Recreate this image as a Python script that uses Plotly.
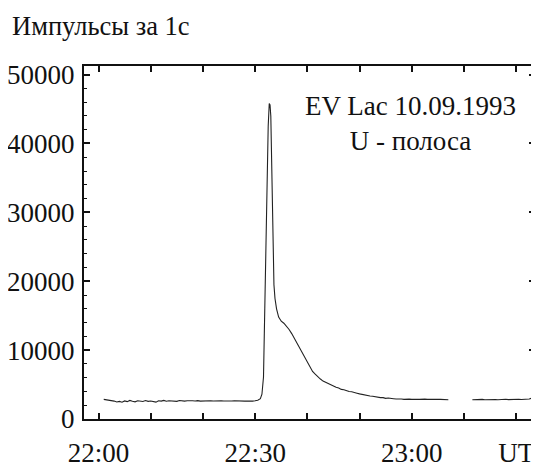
import plotly.graph_objects as go

# minutes after 22:00 UT
t_pre = [1.0, 1.5, 2.0, 2.5, 3.0, 3.5, 4.0, 4.5, 5.0, 5.5, 6.0, 6.5, 7.0, 7.5, 8.0, 8.5,
         9.0, 9.5, 10.0, 10.5, 11.0, 11.5, 12.0, 12.5, 13.0, 13.5, 14.0, 14.5, 15.0, 15.5,
         16.0, 16.5, 17.0, 17.5, 18.0, 18.5, 19.0, 19.5, 20.0, 20.5, 21.0, 21.5, 22.0, 22.5,
         23.0, 23.5, 24.0, 24.5, 25.0, 25.5, 26.0, 26.5, 27.0, 27.5, 28.0, 28.5, 29.0, 29.5,
         30.0, 30.5]
v_pre = [2850, 2800, 2720, 2650, 2600, 2480, 2560, 2430, 2620, 2520, 2700, 2580, 2490, 2640,
         2600, 2550, 2680, 2560, 2620, 2530, 2450, 2640, 2600, 2700, 2580, 2650, 2600, 2620,
         2560, 2680, 2620, 2600, 2650, 2590, 2640, 2610, 2660, 2590, 2620, 2650, 2600, 2640,
         2620, 2660, 2600, 2630, 2610, 2650, 2590, 2620, 2640, 2600, 2560, 2620, 2590, 2610,
         2580, 2600, 2650, 2720]

t_flare = [31.0, 31.3, 31.6, 31.8, 32.0, 32.25, 32.5, 32.7, 32.85, 33.0, 33.15, 33.3, 33.45,
           33.6, 33.8, 34.1, 34.5, 35.0, 35.5, 36.0, 36.5, 37.0, 37.5, 38.0, 38.5, 39.0, 39.5,
           40.0, 40.5, 41.0, 41.5, 42.0, 42.5, 43.0, 43.5, 44.0, 44.5, 45.0, 45.5, 46.0, 46.5,
           47.0, 47.5, 48.0, 48.5, 49.0, 49.5, 50.0, 50.5, 51.0, 51.5, 52.0, 52.5, 53.0, 53.5,
           54.0, 54.5, 55.0, 55.5, 56.0, 56.5, 57.0, 57.5, 58.0, 58.5, 59.0, 59.5, 60.0, 60.5,
           61.0, 61.5, 62.0, 62.5, 63.0, 63.5, 64.0, 64.5, 65.0, 65.5, 66.0, 66.5, 67.0]
v_flare = [2950, 3600, 6100, 15000, 25600, 35500, 42500, 45800, 45600, 44000, 38000, 30000,
           23000, 19500, 17500, 16000, 14800, 14200, 13900, 13500, 13000, 12400, 11700, 10900,
           10300, 9600, 8800, 8100, 7600, 6900, 6500, 6100, 5800, 5500, 5300, 5100, 4900, 4700,
           4600, 4500, 4300, 4250, 4100, 4000, 3950, 3800, 3750, 3650, 3550, 3500, 3400, 3350,
           3300, 3200, 3150, 3100, 3100, 3000, 3050, 2950, 2950, 2900, 2950, 2900, 2850, 2900,
           2880, 2850, 2900, 2870, 2850, 2900, 2880, 2850, 2870, 2900, 2830, 2870, 2850, 2820,
           2780, 2800]

t_post = [71.6, 72.0, 72.5, 73.0, 73.5, 74.0, 74.5, 75.0, 75.5, 76.0, 76.5, 77.0, 77.5, 78.0,
          78.5, 79.0, 79.5, 80.0, 80.5, 81.0, 81.5, 82.0, 82.5, 83.0]
v_post = [2800, 2830, 2790, 2820, 2850, 2800, 2830, 2870, 2810, 2840, 2800, 2850, 2830, 2860,
          2820, 2850, 2880, 2840, 2860, 2830, 2870, 2850, 2900, 3050]

x_tickvals = [0, 10, 20, 30, 40, 50, 60, 70, 80]
x_ticktext = ["22:00", "", "", "22:30", "", "", "23:00", "", "UT"]
y_tickvals = [0, 10000, 20000, 30000, 40000, 50000]
y_ticktext = ["0", "10000", "20000", "30000", "40000", "50000"]

x = t_pre + t_flare + [None] + t_post
y = v_pre + v_flare + [None] + v_post

FONT = "Liberation Serif"
INK = "#111111"

fig = go.Figure()
fig.add_trace(go.Scatter(x=x, y=y, mode="lines", connectgaps=False,
                         line=dict(color="#222222", width=1.1), hoverinfo="skip",
                         showlegend=False))

# page body has an 8px margin, so the figure is laid out shifted by 8px
fig.update_layout(
    width=531, height=462,
    margin=dict(l=76, r=4, t=58, b=51, autoexpand=False),
    paper_bgcolor="white", plot_bgcolor="white",
    font=dict(family=FONT, size=27, color=INK),
    showlegend=False,
)
fig.update_xaxes(
    range=[-2.78, 83.6], tickmode="array", tickvals=x_tickvals, ticktext=x_ticktext,
    ticks="inside", ticklen=6, tickwidth=1.5, tickcolor=INK,
    showline=True, linecolor=INK, linewidth=2, mirror="ticks",
    showgrid=False, zeroline=False, ticklabelstandoff=9, automargin=False,
    tickfont=dict(family=FONT, size=27, color=INK),
)
fig.update_yaxes(
    range=[0, 51250], tickmode="array", tickvals=y_tickvals, ticktext=y_ticktext,
    ticks="inside", ticklen=6, tickwidth=1.5, tickcolor=INK,
    minor=dict(dtick=2000, tick0=0, ticks="inside", ticklen=3, tickwidth=1, tickcolor=INK),
    showline=True, linecolor=INK, linewidth=2, mirror="ticks",
    showgrid=False, zeroline=False, ticklabelstandoff=2, automargin=False,
    tickfont=dict(family=FONT, size=27, color=INK),
)

fig.add_annotation(text="Импульсы за 1с", xref="paper", yref="paper",
                   x=-0.164, y=1.114, xanchor="left", yanchor="middle",
                   showarrow=False, font=dict(family=FONT, size=26.5, color=INK))
fig.add_annotation(text="EV Lac 10.09.1993<br>U - полоса", xref="paper", yref="paper",
                   x=0.723, y=0.8385, xanchor="center", yanchor="middle", align="center",
                   showarrow=False, font=dict(family=FONT, size=27, color=INK))

fig.write_html("out.html")
